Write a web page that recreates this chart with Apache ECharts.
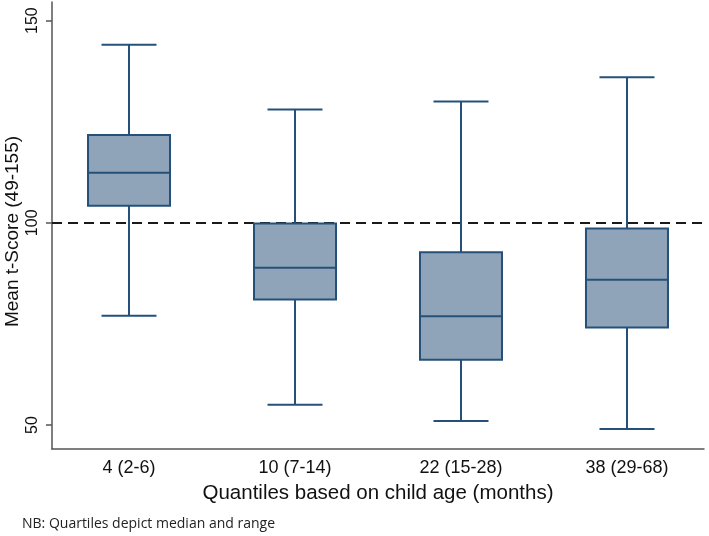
<!DOCTYPE html>
<html>
<head>
<meta charset="utf-8">
<script src="https://cdn.jsdelivr.net/npm/echarts@6/dist/echarts.min.js"></script>
<style>
html,body{margin:0;padding:0;background:#fff;}
#chart{width:709px;height:536px;}
</style>
</head>
<body>
<div id="chart"></div>
<script>
const categories = ['4 (2-6)', '10 (7-14)', '22 (15-28)', '38 (29-68)'];
const positions = [1, 2, 3, 4];
const mins = [77, 55, 51, 49];
const q1s = [104.2, 81, 66.1, 74.1];
const medians = [112.4, 88.9, 76.9, 85.9];
const q3s = [121.7, 99.8, 92.7, 98.6];
const maxs = [144, 128, 130, 136];
const yTicks = [50, 100, 150];
const referenceLine = 100;

const boxData = positions.map((p, i) => [p, mins[i], q1s[i], medians[i], q3s[i], maxs[i]]);

const STROKE = '#24507a';
const FILL = '#8fa4b8';

const chart = echarts.init(document.getElementById('chart'), null, {renderer: 'canvas'});

function renderBox(params, api) {
  const x = api.value(0);
  const pMin = api.coord([x, api.value(1)]);
  const pQ1 = api.coord([x, api.value(2)]);
  const pMed = api.coord([x, api.value(3)]);
  const pQ3 = api.coord([x, api.value(4)]);
  const pMax = api.coord([x, api.value(5)]);
  const cx = pMed[0];
  const bw = 41, cw = 27.5;
  const ls = {stroke: STROKE, lineWidth: 2, fill: null};
  return {
    type: 'group',
    children: [
      {type: 'line', shape: {x1: cx, y1: pMax[1], x2: cx, y2: pQ3[1]}, style: ls},
      {type: 'line', shape: {x1: cx, y1: pQ1[1], x2: cx, y2: pMin[1]}, style: ls},
      {type: 'line', shape: {x1: cx - cw, y1: pMax[1], x2: cx + cw, y2: pMax[1]}, style: ls},
      {type: 'line', shape: {x1: cx - cw, y1: pMin[1], x2: cx + cw, y2: pMin[1]}, style: ls},
      {type: 'rect', shape: {x: cx - bw, y: pQ3[1], width: 2 * bw, height: pQ1[1] - pQ3[1]},
        style: {fill: FILL, stroke: STROKE, lineWidth: 2}},
      {type: 'line', shape: {x1: cx - bw, y1: pMed[1], x2: cx + bw, y2: pMed[1]}, style: ls}
    ]
  };
}

const option = {
  animation: false,
  backgroundColor: '#fff',
  grid: {left: 52, right: 5, top: 2, bottom: 87, containLabel: false, outerBoundsMode: 'none'},
  xAxis: {
    type: 'value',
    min: 0.536,
    max: 4.464,
    name: 'Quantiles based on child age (months)',
    nameLocation: 'middle',
    nameGap: 34,
    nameMoveOverlap: false,
    nameTextStyle: {fontFamily: 'Liberation Sans', fontSize: 20.5, color: '#111'},
    axisLine: {show: true, lineStyle: {color: '#555', width: 1.5}},
    axisTick: {show: false},
    splitLine: {show: false},
    axisLabel: {
      customValues: positions,
      formatter: v => categories[Math.round(v) - 1] || '',
      fontFamily: 'Liberation Sans', fontSize: 18, color: '#111', margin: 10
    }
  },
  yAxis: {
    type: 'value',
    min: 44.06,
    max: 154.6,
    name: 'Mean t-Score (49-155)',
    nameLocation: 'middle',
    nameGap: 30,
    nameRotate: 90,
    nameMoveOverlap: false,
    nameTextStyle: {fontFamily: 'Liberation Sans', fontSize: 19, color: '#111', padding: [0, 12, 0, 0]},
    axisLine: {show: true, lineStyle: {color: '#555', width: 1.5}},
    axisTick: {show: true, customValues: yTicks, length: 6, lineStyle: {color: '#555', width: 1.5}},
    splitLine: {show: false},
    axisLabel: {
      customValues: yTicks,
      rotate: 90,
      fontFamily: 'Liberation Sans', fontSize: 16, color: '#111', margin: 11
    }
  },
  graphic: [{
    type: 'text', left: 22, top: 517,
    style: {text: 'NB: Quartiles depict median and range', fontFamily: 'Open Sans', fontSize: 14, fill: '#222'}
  }],
  series: [{
    type: 'custom',
    renderItem: renderBox,
    data: boxData,
    encode: {x: 0, y: [1, 2, 3, 4, 5]},
    z: 3,
    markLine: {
      silent: true,
      symbol: ['none', 'none'],
      label: {show: false},
      lineStyle: {color: '#1a1a1a', width: 2, type: [10, 6]},
      data: [{yAxis: referenceLine}],
      z: 2
    }
  }]
};
chart.setOption(option);
</script>
</body>
</html>
